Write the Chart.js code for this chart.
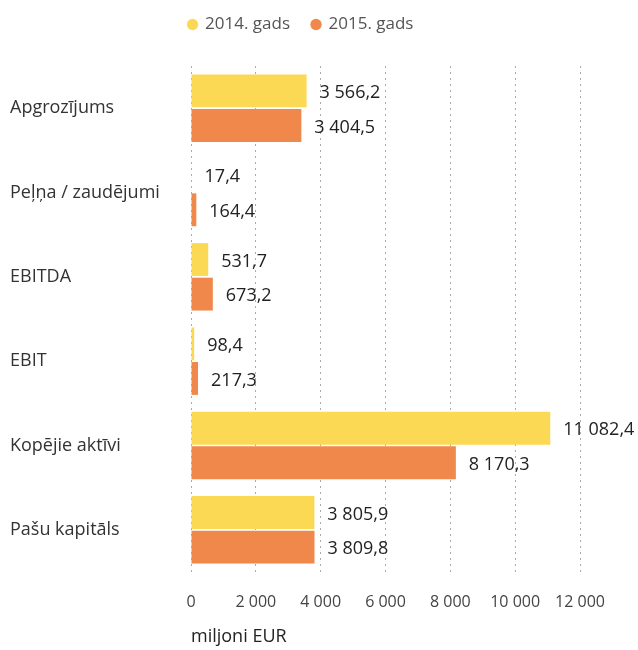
<!DOCTYPE html>
<html><head><meta charset="utf-8">
<script src="https://cdn.jsdelivr.net/npm/chart.js@4"></script>
<style>html,body{margin:0;padding:0;background:#fff;}canvas{display:block;}</style>
</head><body>
<canvas id="c" width="638" height="650"></canvas>
<script>
const categories = ["Apgrozījums", "Peļņa / zaudējumi", "EBITDA", "EBIT", "Kopējie aktīvi", "Pašu kapitāls"];
const series2014 = [3566.2, 17.4, 531.7, 98.4, 11082.4, 3805.9];
const series2015 = [3404.5, 164.4, 673.2, 217.3, 8170.3, 3809.8];
const seriesNames = ["2014. gads", "2015. gads"];
const xTicks = [0, 2000, 4000, 6000, 8000, 10000, 12000];
const axisTitle = "miljoni EUR";

const FONT = "'Open Sans', 'Noto Sans', sans-serif";
function fmt(v, dec) {
  const s = v.toFixed(dec);
  let [i, d] = s.split('.');
  i = i.replace(/\B(?=(\d{3})+(?!\d))/g, ' ');
  return d ? i + ',' + d : i;
}

const labelPlugin = {
  id: 'valLabels',
  afterDatasetsDraw(chart) {
    const ctx = chart.ctx;
    ctx.save();
    ctx.font = "18px " + FONT;
    ctx.fillStyle = "#222";
    ctx.textBaseline = "middle";
    ctx.textAlign = "left";
    chart.data.datasets.forEach((ds, di) => {
      const meta = chart.getDatasetMeta(di);
      meta.data.forEach((el, i) => {
        ctx.fillText(fmt(ds.data[i], 1), el.x + 13, el.y + 2);
      });
    });
    ctx.restore();
  }
};

const legendFix = {
  id: 'legendFix',
  afterInit(chart) {
    const lg = chart.legend;
    if (!lg) return;
    const orig = lg.fit;
    lg.fit = function () { orig.call(this); this.height = 66; };
  },
  afterLayout(chart) {
    const lg = chart.legend;
    if (!lg) return;
    lg.left += 6; lg.right += 6;
    lg.top -= 6; lg.bottom -= 6;
  }
};

new Chart(document.getElementById('c'), {
  type: 'bar',
  data: {
    labels: categories,
    datasets: [
      { label: seriesNames[0], data: series2014, backgroundColor: '#FCD955', borderWidth: 0 },
      { label: seriesNames[1], data: series2015, backgroundColor: '#EF884A', borderWidth: 0 }
    ]
  },
  options: {
    indexAxis: 'y',
    responsive: false,
    animation: false,
    categoryPercentage: 0.82,
    barPercentage: 0.95,
    layout: { padding: { left: 10, right: 58, top: 0, bottom: 2 } },
    plugins: {
      tooltip: { enabled: false },
      legend: {
        position: 'top',
        align: 'center',
        labels: {
          usePointStyle: true, pointStyle: 'circle', boxWidth: 8, boxHeight: 8,
          color: '#555', font: { family: FONT, size: 17 }, padding: 22
        }
      }
    },
    scales: {
      x: {
        min: 0, max: 12000,
        afterBuildTicks(ax) { ax.ticks = xTicks.map(v => ({ value: v })); },
        afterFit(ax) { ax.height = 76; },
        ticks: { color: '#444', font: { family: FONT, size: 16 }, padding: 21,
          callback: (v) => fmt(v, 0) },
        grid: { color: '#aaa', lineWidth: 1, drawTicks: false },
        border: { display: false, dash: [2, 4] },
        title: { display: true, text: axisTitle, align: 'start', color: '#222',
          font: { family: FONT, size: 18 }, padding: { top: 14, bottom: 0 } }
      },
      y: {
        ticks: { color: '#333', font: { family: FONT, size: 18 }, crossAlign: 'far', padding: 0 },
        grid: { display: false },
        border: { display: false },
        afterFit(ax) { ax.width = 181; }
      }
    }
  },
  plugins: [labelPlugin, legendFix]
});
</script>
</body></html>
